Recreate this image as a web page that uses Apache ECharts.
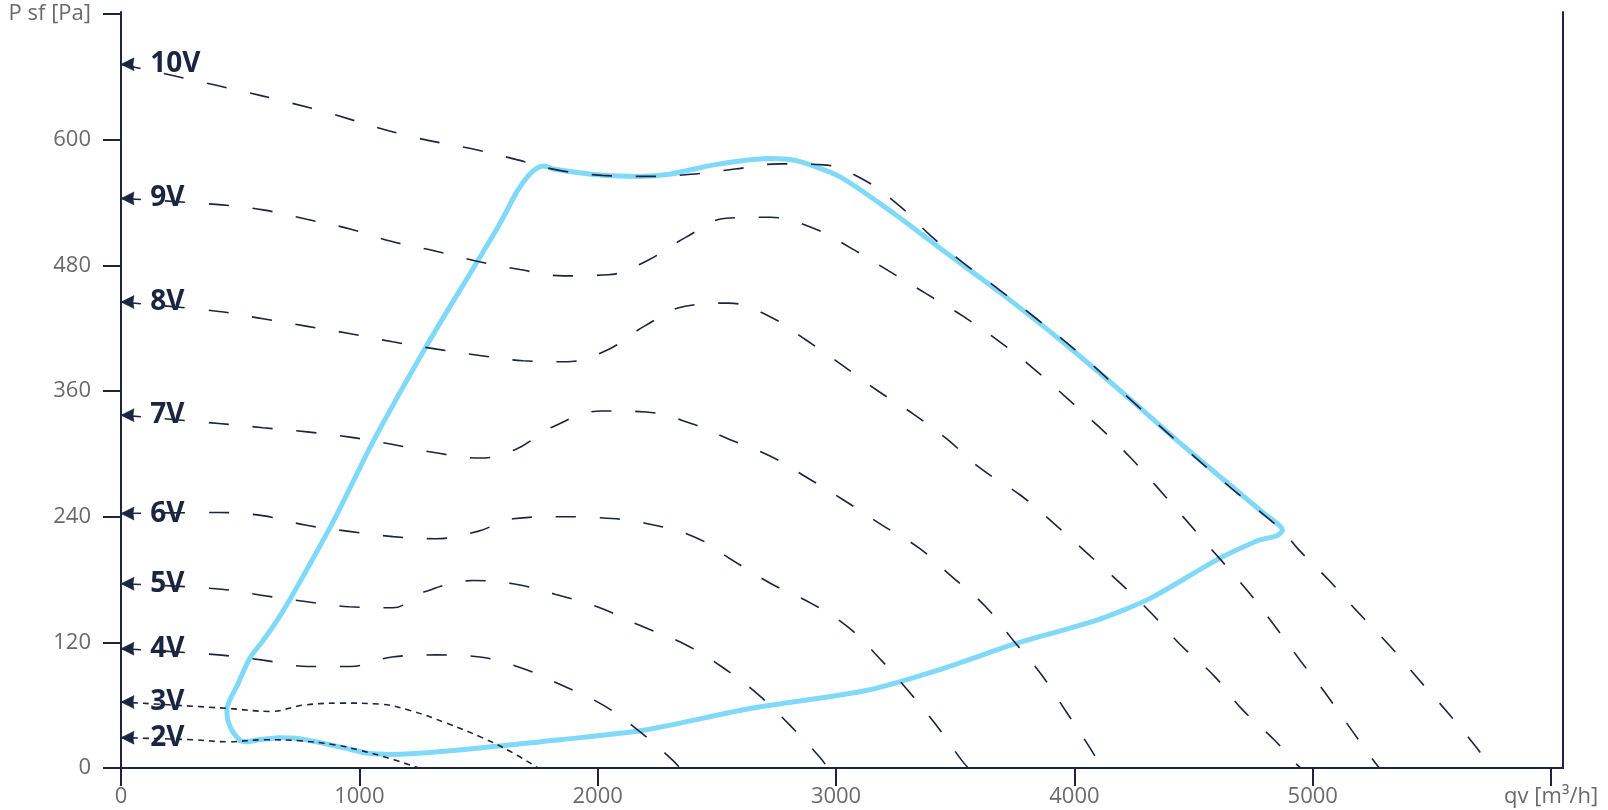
<!DOCTYPE html>
<html>
<head>
<meta charset="utf-8">
<script src="https://cdn.jsdelivr.net/npm/echarts@6/dist/echarts.min.js"></script>
<style>
html,body{margin:0;padding:0;background:#ffffff;}
#chart{width:1608px;height:810px;}
</style>
</head>
<body>
<div id="chart"></div>
<script>
// ---- data (qv [m3/h], P sf [Pa]) ----
const xAxisName = 'qv [m³/h]';
const yAxisName = 'P sf [Pa]';
const xTickValues = [0, 1000, 2000, 3000, 4000, 5000, 6000];
const yTickValues = [0, 120, 240, 360, 480, 600, 720];

const curveLabels = ['10V', '9V', '8V', '7V', '6V', '5V', '4V', '3V', '2V'];

const curve10V = [[0,672],[400,652],[800,630],[1200,604],[1500,590],[1660,581],[1833,571],[2018,566],[2207,565],[2391,567],[2576,572],[2761,577],[2946,576],[3114,562],[3265,537],[3399,508],[3542,481],[3689,456],[3836,430],[4010,398],[4225,354],[4440,310],[4654,268],[4871,227],[4939,209],[5069,179],[5193,148],[5322,117],[5443,85],[5566,53],[5682,21],[5750,0]];
const curve9V = [[0,544],[411,538],[596,533],[780,524],[957,515],[1133,503],[1313,494],[1494,484],[1674,476],[1857,470],[2044,471],[2211,485],[2371,507],[2539,525],[2723,526],[2900,516],[3059,497],[3219,475],[3378,453],[3536,431],[3687,407],[3831,381],[3970,353],[4107,325],[4237,296],[4348,268],[4540,218],[4727,169],[4836,137],[4950,102],[5061,69],[5170,34],[5262,5],[5280,0]];
const curve8V = [[0,445],[411,436],[596,429],[776,422],[957,415],[1140,407],[1325,400],[1505,394],[1687,389],[1870,388],[2047,400],[2196,422],[2367,441],[2550,444],[2723,431],[2879,408],[3030,384],[3170,361],[3325,338],[3466,314],[3601,287],[3777,260],[3917,233],[4054,205],[4190,177],[4322,148],[4448,117],[4586,88],[4704,56],[4838,27],[4935,3],[4950,0]];
const curve7V = [[0,337],[411,329],[596,325],[781,321],[961,316],[1141,309],[1321,301],[1506,296],[1653,304],[1813,326],[2018,341],[2203,340],[2392,329],[2551,314],[2723,298],[2881,277],[3038,255],[3193,232],[3349,210],[3480,184],[3624,155],[3743,122],[3862,89],[3965,54],[4066,19],[4115,0]];
const curve6V = [[0,243],[410,244],[593,241],[773,232],[957,226],[1141,221],[1318,219],[1497,226],[1645,238],[1829,240],[2010,239],[2195,234],[2413,220],[2568,198],[2728,176],[2898,157],[3048,135],[3177,106],[3302,74],[3420,41],[3525,8],[3555,0]];
const curve5V = [[0,176],[410,171],[588,165],[773,159],[957,154],[1141,153],[1270,168],[1481,179],[1645,176],[1821,166],[1998,154],[2168,137],[2367,118],[2525,96],[2669,71],[2806,41],[2933,10],[2965,0]];
const curve4V = [[0,114],[410,108],[596,103],[783,97],[962,97],[1138,106],[1326,108],[1506,106],[1686,95],[1850,79],[2023,60],[2170,36],[2312,8],[2345,0]];
const curve3V = [[0,63],[444,57],[630,54],[764,60],[919,62],[1087,61],[1213,55],[1364,43],[1515,29],[1632,16],[1750,0]];
const curve2V = [[0,29],[300,27],[450,25],[600,27],[750,26],[900,22],[1000,17],[1100,11],[1250,0]];

const boundary = [[500,26],[468,35],[448,46],[444,56],[490,80],[541,105],[600,123],[655,141],[714,163],[894,237],[1058,312],[1297,409],[1480,478],[1590,520],[1660,550],[1710,566],[1745,573],[1775,575],[1813,572],[2023,566],[2178,565],[2300,567],[2489,576],[2715,582],[2833,580],[3013,565],[3240,530],[3462,492],[3689,454],[3940,409],[4225,354],[4440,311],[4654,270],[4790,244],[4873,227],[4852,222],[4800,219],[4767,217],[4599,199],[4318,162],[4091,141],[3756,119],[3449,95],[3126,74],[2644,57],[2191,36],[1842,27],[1590,21],[1141,13],[1036,14],[940,19],[840,24],[750,28],[661,29],[580,27],[526,25],[500,26]];

const curves = [curve10V, curve9V, curve8V, curve7V, curve6V, curve5V, curve4V, curve3V, curve2V];

// ---- styles ----
const NAVY = '#1b2440';
const GRAY = '#6a6a6a';
const BLUE = '#80d9f9';
const FONT = 'Open Sans';
const ARROW = 'path://M0,6L13,0L12,6L13,12Z';

function curveSeries(points, label) {
  const shortDash = (label === '2V' || label === '3V');
  const data = points.map(function (p, i) {
    if (i === 0) {
      return {
        value: p,
        symbol: ARROW,
        symbolSize: [13, 13],
        symbolOffset: [6.5, 0],
        itemStyle: { color: NAVY, borderColor: NAVY, borderWidth: 0.5 },
        label: {
          show: true,
          position: 'right',
          distance: 16,
          formatter: label,
          color: NAVY,
          fontFamily: FONT,
          fontWeight: 'bold',
          fontSize: 28
        }
      };
    }
    return { value: p, symbol: 'none' };
  });
  return {
    type: 'line',
    name: label,
    data: data,
    smooth: 0.4,
    showSymbol: true,
    symbol: 'none',
    itemStyle: { color: NAVY },
    lineStyle: {
      color: NAVY,
      width: 1.6,
      type: shortDash ? [6, 5] : [20, 24]
    },
    emphasis: { disabled: true },
    silent: true,
    z: 3
  };
}

const series = [{
  type: 'line',
  name: 'boundary',
  data: boundary,
  smooth: 0.25,
  symbol: 'none',
  lineStyle: { color: BLUE, width: 5, cap: 'round', join: 'round' },
  emphasis: { disabled: true },
  silent: true,
  z: 2
}];
curves.forEach(function (c, i) { series.push(curveSeries(c, curveLabels[i])); });

const chart = echarts.init(document.getElementById('chart'), null, { renderer: 'canvas' });
chart.setOption({
  animation: false,
  backgroundColor: '#ffffff',
  grid: { left: 121, right: 45, top: 12, bottom: 42, containLabel: false },
  xAxis: {
    type: 'value',
    min: 0,
    max: 6050,
    axisLine: { show: true, onZero: false, lineStyle: { color: NAVY, width: 2 } },
    axisTick: { show: true, length: 18, lineStyle: { color: NAVY, width: 2 }, customValues: xTickValues },
    axisLabel: {
      customValues: xTickValues,
      margin: 18,
      color: GRAY,
      fontFamily: FONT,
      fontSize: 22,
      formatter: function (v) { return v === xTickValues[xTickValues.length - 1] ? xAxisName : String(v); }
    },
    splitLine: { show: false }
  },
  yAxis: [{
    type: 'value',
    min: 0,
    max: 722,
    axisLine: { show: true, onZero: false, lineStyle: { color: NAVY, width: 2 } },
    axisTick: { show: true, length: 18, lineStyle: { color: NAVY, width: 2 }, customValues: yTickValues },
    axisLabel: {
      customValues: yTickValues,
      margin: 30,
      color: GRAY,
      fontFamily: FONT,
      fontSize: 22,
      formatter: function (v) { return v === yTickValues[yTickValues.length - 1] ? yAxisName : String(v); }
    },
    splitLine: { show: false }
  }, {
    type: 'value',
    position: 'right',
    min: 0,
    max: 722,
    axisLine: { show: true, onZero: false, lineStyle: { color: NAVY, width: 2 } },
    axisTick: { show: false },
    axisLabel: { show: false },
    splitLine: { show: false }
  }],
  series: series
});
</script>
</body>
</html>
